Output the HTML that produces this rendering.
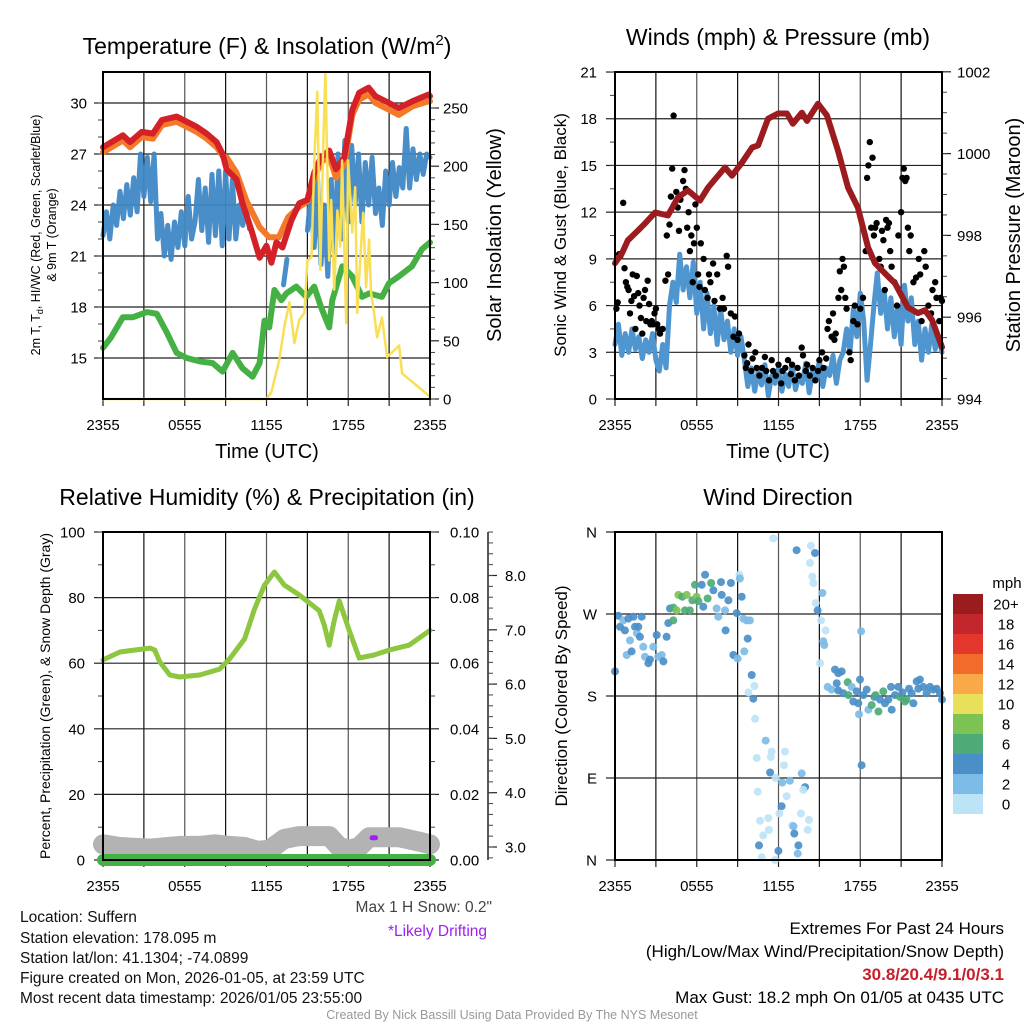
<!DOCTYPE html>
<html><head><meta charset="utf-8">
<style>
html,body{margin:0;padding:0;background:#fff;}
svg{display:block;font-family:"Liberation Sans",Arial,sans-serif;}
</style></head>
<body>
<svg id="chart" width="1024" height="1024" viewBox="0 0 1024 1024" xmlns="http://www.w3.org/2000/svg">
<rect x="0" y="0" width="1024" height="1024" fill="#fff"/>
<!-- titles -->
<text x="267" y="54" font-size="23" text-anchor="middle">Temperature (F) &amp; Insolation (W/m<tspan dy="-9" font-size="15">2</tspan><tspan dy="9">)</tspan></text>
<text x="778" y="45" font-size="23" text-anchor="middle">Winds (mph) &amp; Pressure (mb)</text>
<text x="267" y="505" font-size="23" text-anchor="middle">Relative Humidity (%) &amp; Precipitation (in)</text>
<text x="778" y="505" font-size="23" text-anchor="middle">Wind Direction</text>
<!-- axis titles -->
<text x="267" y="458" font-size="20" text-anchor="middle">Time (UTC)</text>
<text x="778" y="458" font-size="20" text-anchor="middle">Time (UTC)</text>
<text transform="translate(40,235) rotate(-90)" font-size="12.5" text-anchor="middle">2m T, T<tspan dy="3" font-size="9">d</tspan><tspan dy="-3">, HI/WC (Red, Green, Scarlet/Blue)</tspan></text>
<text transform="translate(56,235) rotate(-90)" font-size="12.5" text-anchor="middle">&amp; 9m T (Orange)</text>
<text transform="translate(501,235) rotate(-90)" font-size="20" text-anchor="middle">Solar Insolation (Yellow)</text>
<text transform="translate(566,235) rotate(-90)" font-size="17" text-anchor="middle">Sonic Wind &amp; Gust (Blue, Black)</text>
<text transform="translate(1020,235) rotate(-90)" font-size="20" text-anchor="middle">Station Pressure (Maroon)</text>
<text transform="translate(50,696) rotate(-90)" font-size="14" text-anchor="middle">Percent, Precipitation (Green), &amp; Snow Depth (Gray)</text>
<text transform="translate(567,696) rotate(-90)" font-size="17" text-anchor="middle">Direction (Colored By Speed)</text>
<!-- footer text -->
<g font-size="15.5" fill="#111">
<text x="20" y="922">Location: Suffern</text>
<text x="20" y="943">Station elevation: 178.095 m</text>
<text x="20" y="963">Station lat/lon: 41.1304; -74.0899</text>
<text x="20" y="983">Figure created on Mon, 2026-01-05, at 23:59 UTC</text>
<text x="20" y="1003">Most recent data timestamp: 2026/01/05 23:55:00</text>
</g>
<text x="492" y="912" font-size="15.5" fill="#444" text-anchor="end">Max 1 H Snow: 0.2"</text>
<text x="487" y="936" font-size="15.5" fill="#A020F0" text-anchor="end">*Likely Drifting</text>
<g font-size="17" text-anchor="end">
<text x="1004" y="934">Extremes For Past 24 Hours</text>
<text x="1004" y="957">(High/Low/Max Wind/Precipitation/Snow Depth)</text>
<text x="1004" y="980" fill="#C8202A" font-weight="bold">30.8/20.4/9.1/0/3.1</text>
<text x="1004" y="1003">Max Gust: 18.2 mph On 01/05 at 0435 UTC</text>
</g>
<text x="512" y="1019" font-size="12.5" fill="#999" text-anchor="middle">Created By Nick Bassill Using Data Provided By The NYS Mesonet</text>
<g id="layer"></g>
</svg>
<script>
// ---------- DATA ----------
const timeTickLabels = ["2355","0555","1155","1755","2355"];
const tempTickLabels = [15,18,21,24,27,30];
const insolTickLabels = [0,50,100,150,200,250];
const windTickLabels = [0,3,6,9,12,15,18,21];
const pressTickLabels = [994,996,998,1000,1002];
const rhTickLabels = [0,20,40,60,80,100];
const precipTickLabels = ["0.00","0.02","0.04","0.06","0.08","0.10"];
const snowTickLabels = ["3.0","4.0","5.0","6.0","7.0","8.0"];
const dirTickLabels = ["N","E","S","W","N"];
const speedBinLabels = ["0","2","4","6","8","10","12","14","16","18","20+"];

const redHours = [0,1.46,1.98,2.85,3.66,4.32,5.41,6.14,6.88,7.61,8.34,8.78,9.07,9.8,10.24,10.9,11.49,12.0,12.36,12.73,13.17,13.83,14.41,15,15.5,16.0,16.6,17.1,17.7,18.3,18.8,19.5,20.0,21.0,21.7,22.7,23.9,24];
const redVals  = [27.4,28.1,27.7,28.3,28.2,29.0,29.2,28.9,28.6,28.2,27.7,27.0,26.1,25.5,24.1,22.5,20.9,21.6,20.6,21.8,21.5,23.1,24.1,24.3,25.9,26.8,27.2,26.1,26.8,29.6,30.6,30.9,30.4,30.0,29.7,30.1,30.5,30.4];
const orangeHours = [0,1.46,1.98,2.85,3.66,4.32,5.41,6.14,6.88,7.61,8.34,8.78,9.07,9.8,10.5,11.49,12.2,12.9,13.6,14.41,15,15.5,16.0,16.6,17.1,17.7,18.3,18.8,19.5,20.0,21.0,21.7,22.7,23.9,24];
const orangeVals  = [27.1,27.8,27.4,28.0,27.9,28.7,28.9,28.6,28.3,27.9,27.4,26.9,26.8,25.9,24.3,22.7,22.1,22.1,23.3,23.9,24.2,25.6,26.5,26.9,25.6,26.4,29.3,30.2,30.5,30.0,29.6,29.3,29.8,30.1,30.1];
const blueVals = [22.2,23.6,22.0,24.0,22.8,24.8,23.2,25.2,23.4,25.6,23.6,
  27.0,24.5,26.8,24.2,27.0,
  22,23.5,21,22.8,20.8,23,21.5,23.6,21.6,24.5,22,
  23,25.5,22.5,25,21.8,25.8,22.2,26,21.6,26,22,25.5,22,
  24,22.8,23.8,22.6,
  null,null,null,null,null,null,null,null,null,
  19.3,20.8,
  null,null,null,null,null,
  22.5,24.5,21.5,25.5,20.5,24,19.8,25.5,21,27,22,27.8,23,27.5,24,27,23,26.5,24,26.8,23.5,25,22.8,26,24,26.5,24.5,26.2,25,28.5,25,27.3,25.5,27,25.8,27,26.8];
const blueStepHours = 0.25;
const greenHours = [0,0.58,1.46,2.2,3.22,3.95,4.68,5.41,6.14,7.09,8.05,8.78,9.51,10.24,10.97,11.49,11.85,12.2,12.58,13.09,13.46,14.19,14.92,15.5,16.0,16.6,16.83,17.56,18.29,19.02,19.53,20.48,20.99,21.72,22.68,23.41,24];
const greenVals  = [15.6,16.2,17.4,17.4,17.7,17.6,16.5,15.3,15.0,14.8,14.7,14.2,15.3,14.4,13.9,14.7,17.2,16.8,19.0,18.4,18.8,19.2,18.6,19.2,18.0,16.8,18.4,20.4,19.8,18.6,18.8,18.6,19.4,19.8,20.4,21.4,21.8];
const insolHours = [0,11.99,12.36,12.95,13.31,13.68,13.9,14.05,14.41,14.78,15.0,15.3,15.51,15.73,15.95,16.17,16.32,16.6,16.75,16.97,17.2,17.41,17.55,17.85,17.99,18.14,18.29,18.51,18.66,18.95,19.1,19.31,19.53,19.68,19.9,20.12,20.48,20.85,21.73,21.95,24];
const insolVals  = [0,0,6,34,62,83,62,48,68,74,119,122,205,264,111,220,281,119,171,94,162,131,205,65,205,174,143,182,74,134,160,96,137,91,74,53,70,36,46,22,2,0];

const windVals = [3.5,4.8,2.8,4.2,3.0,4.5,3.2,4.0,2.6,3.8,3.0,4.2,
  2.5,1.8,3.5,2.0,
  6.0,7.5,6.2,9.3,7.0,8.5,6.5,8.8,
  5.5,7.5,4.5,6.8,4.2,6.0,3.5,5.8,3.8,5.0,3.0,4.5,2.8,4.0,2.5,
  0.8,2.0,0.5,1.8,0.9,2.2,0.2,1.5,1.0,2.0,0.5,1.6,0.8,2.2,0.6,1.5,1.0,2.3,0.4,1.8,1.2,2.5,0.8,2.0,1.5,2.8,1.0,2.5,3.0,
  4.5,3.0,5.8,4.0,6.8,5.0,1.2,3.5,6.0,8.1,5.5,7.0,4.5,
  6.5,4.0,6.0,3.5,7.3,5.0,6.5,3.5,5.0,2.5,4.5,3.0,4.8,3.2,4.0,3.0];
const windStepHours = 0.25;
const gustHours = [0.1,0.2,0.3,0.4,0.6,0.7,0.8,0.9,1.0,1.1,1.2,1.3,1.4,1.5,1.6,1.7,1.8,1.9,2.0,2.1,2.2,2.3,2.4,2.5,2.6,2.7,2.8,2.9,3.0,3.1,3.2,3.3,3.5,
 3.7,3.8,3.9,4.0,4.1,4.2,4.3,4.35,4.5,4.6,4.7,4.8,5.0,5.1,5.2,5.3,5.4,5.5,5.6,5.7,5.8,5.9,6.0,6.1,6.2,6.3,6.5,6.6,6.8,6.9,7.0,7.2,7.3,7.5,7.7,7.9,8.0,8.2,8.3,8.5,8.7,8.8,9.0,9.1,
 9.5,9.6,9.7,9.8,10.0,10.1,10.3,10.4,10.6,10.8,11.0,11.1,11.3,11.5,11.6,11.8,12.0,12.2,12.3,12.5,12.7,12.9,13.0,13.2,13.4,13.5,13.7,13.8,14.0,14.1,14.3,14.5,14.7,14.9,15.0,15.2,15.3,15.5,
 15.6,15.7,15.9,16.0,16.1,16.2,16.4,16.5,16.6,16.7,16.8,16.9,17.0,17.2,17.3,17.5,17.6,17.8,18.0,18.2,18.4,18.5,18.6,18.7,18.9,18.8,19.0,19.1,19.2,19.4,19.5,19.6,19.7,19.8,19.9,20.0,20.1,20.2,20.3,20.5,20.7,20.8,21.0,21.1,21.2,21.3,21.4,21.5,21.6,21.7,21.9,22.1,22.3,22.4,22.5,22.7,22.8,23.0,23.2,23.3,23.5,23.6,23.8,23.9,24.0];
const gustVals = [5.8,6.2,9.3,9.2,12.6,8.4,7.5,7.2,7.0,5.5,6.3,8.0,6.6,4.5,7.9,6.8,6.0,5.2,4.2,6.5,7.0,5.0,7.6,6.1,4.8,5.0,4.8,5.5,5.8,4.8,4.5,4.2,4.5,
 7.6,10.5,8.0,11.2,13.0,14.8,18.2,12.5,13.3,12.3,10.8,12.8,14.0,14.7,13.5,11.0,12.0,9.5,10.5,7.5,10.0,12.5,11.0,8.0,7.2,10.0,9.0,7.0,6.5,8.0,7.5,8.7,6.3,8.0,5.8,6.5,5.8,9.2,8.5,5.5,4.0,5.3,3.8,4.2,
 2.8,2.0,2.3,3.5,1.8,2.6,3.0,2.0,1.5,2.0,2.7,1.8,1.2,2.5,1.8,1.5,2.2,1.0,1.8,2.0,2.5,1.6,2.2,1.2,2.0,1.5,3.3,2.8,1.8,2.2,1.5,2.0,1.2,1.8,2.5,3.0,2.0,2.6,
 4.5,5.0,4.0,5.5,3.8,4.2,6.5,8.2,7.0,9.0,8.5,6.5,5.8,3.0,2.5,5.0,6.0,4.8,5.8,6.5,9.5,14.2,15.0,16.5,15.5,11.0,10.5,11.0,11.3,9.0,8.5,10.8,10.2,7.0,11.5,11.0,11.3,9.5,8.5,7.5,6.0,10.5,12.0,14.2,14.8,14.0,14.2,11.0,9.5,10.5,7.5,7.8,9.0,8.0,5.0,9.5,8.5,6.0,5.5,7.0,7.5,6.5,5.0,6.5,6.3];
const pressHours = [0,0.51,0.95,1.69,2.2,2.94,3.89,4.62,5.35,6.24,6.83,8.07,8.59,9.32,10.06,10.5,11.23,11.96,12.62,13.06,13.72,14.09,14.9,15.56,16.37,17.1,17.83,18.57,19.08,19.82,20.55,21.5,22.24,22.75,23.27,24];
const pressVals  = [997.32,997.56,997.88,998.12,998.29,998.56,998.49,998.93,999.1,998.85,999.17,999.66,999.46,999.78,1000.15,1000.2,1000.85,1000.98,1000.98,1000.73,1001.0,1000.8,1001.22,1000.93,1000.07,999.17,998.68,997.71,997.32,997.07,996.83,996.24,996.1,996.17,995.93,995.27];

const rhHours = [0,1.24,3.44,3.8,4.17,4.9,5.63,7.09,8.56,9.29,10.39,11.12,11.85,12.58,13.31,14.41,15.87,16.24,16.6,16.97,17.34,18.07,18.8,19.9,20.99,22.46,24];
const rhVals  = [61,63.4,64.6,64,60.4,56.4,55.8,56.4,58.2,61.3,67.4,76.5,83.8,87.8,83.8,80.8,76,71.6,65.5,73,79,70,61.6,62.5,64,65.5,70];
const snowHours = [0,1.24,3.44,5.63,7.09,8.19,9.29,10.39,11.34,12.22,13.31,14.41,16.6,17.34,18.07,18.8,19.53,21.72,23.19,24];
const snowVals  = [3.05,3.0,2.97,3.02,3.02,3.05,3.02,3.0,2.93,2.95,3.15,3.2,3.2,3.0,2.95,3.0,3.18,3.18,3.1,3.05];
const precipHours = [0,24];
const precipVals  = [0,0];
const driftHours = [19.75,20.0];
const driftVals  = [3.17,3.17];

const dirHours = [0,0.24,0.37,0.61,0.73,0.98,1.1,1.35,1.47,1.6,1.71,1.83,1.96,2.08,2.2,2.45,2.57,2.81,3.06,3.18,3.43,3.55,3.79,0.86,1.22,
 3.91,4.28,4.04,4.28,4.53,4.65,4.94,5.14,5.26,5.5,5.68,5.87,5.99,6.12,6.36,6.48,6.61,6.8,7.05,7.22,7.46,7.58,7.78,7.83,8.07,8.12,8.32,8.51,8.69,8.93,9.0,9.13,9.3,9.17,9.42,9.66,9.9,9.74,9.49,
 10.03,10.23,9.79,10.15,10.28,11.06,10.4,11.5,11.44,12.48,12.4,11.38,11.79,12.28,12.84,13.7,13.95,13.82,12.6,10.47,12.23,12.06,13.65,14.24,11.25,10.64,13.0,13.1,10.88,11.3,14.14,13.16,13.46,10.57,11.99,10.77,11.74,13.41,
 11.62,13.33,14.38,14.68,14.31,14.48,14.56,15.22,14.73,14.87,15.12,15.46,15.29,15.36,15.05,18.06,
 16.15,16.39,16.64,15.61,15.9,16.27,16.39,16.76,17.08,17.13,17.37,17.49,17.74,17.86,17.98,17.91,18.23,18.47,18.6,18.84,19.03,19.13,19.33,19.45,19.69,19.82,20.06,20.26,20.31,20.55,20.79,20.92,21.09,21.28,21.4,21.58,21.77,21.9,22.14,22.26,22.38,22.63,22.87,23.12,23.36,23.61,23.85,24.0,18.1];
const dirDegs = [207,268,256,263,252,265,241,267,256,249,256,245,267,234,223,216,220,234,247,223,225,218,245,225,229,
 260,263,276,277,274,291,289,274,291,274,285,302,289,284,302,278,313,287,304,296,276,267,305,291,274,252,285,304,225,271,221,313,289,309,265,263,263,243,229,
 203,191,184,177,155,131,112,119,113,119,104,96,90,85,87,95,80,77,70,75,59,51,51,44,46,43,38,37,27,33,33,29,16,16,10,3,0,7,
 353,340,345,337,326,311,304,293,282,274,263,252,240,236,216,251,
 209,205,207,190,187,194,186,183,195,181,190,174,185,172,198,160,181,187,165,170,179,181,163,176,185,172,176,190,165,181,190,179,184,174,176,188,183,172,196,188,198,190,183,190,187,188,183,176,104];
const dirSpeeds = [5,5,5,3,5,5,3,5,5,3,5,5,5,3,3,5,5,3,5,3,3,5,5,3,5,
 5,7,5,7,9,9,7,7,9,7,7,7,9,7,5,5,5,7,7,5,3,3,5,5,3,5,5,5,5,5,3,1,5,3,3,3,3,5,3,
 5,1,1,5,1,3,1,1,1,1,1,5,1,3,3,3,5,1,1,1,5,1,1,1,1,1,1,3,1,1,1,5,5,5,5,1,1,3,
 1,5,1,5,1,1,1,3,1,5,1,1,3,3,1,3,
 5,5,5,3,3,5,5,5,7,7,3,5,5,5,5,3,5,5,3,7,5,7,7,5,7,5,5,5,5,5,5,7,5,7,7,5,5,5,5,5,5,5,5,5,5,5,5,5,5];
const speedColors = ["#BDE3F7","#7DBCE6","#4A8FC8","#4DAB78","#7DC353","#E8E05A","#F9A948","#F26B2B","#E2372A","#C1272D","#9B1C1F"];

// ---------- DRAWING ----------
const NS = "http://www.w3.org/2000/svg";
const layer = document.getElementById("layer");
function el(tag, parent){ const e = document.createElementNS(NS, tag); (parent||layer).appendChild(e); return e; }
function set(e, k, v){ e.setAttribute(k, v); return e; }

const P1 = {x0:103,x1:430,y0:72,y1:399};
const P2 = {x0:615,x1:942,y0:72,y1:399};
const P3 = {x0:103,x1:430,y0:532,y1:860};
const P4 = {x0:615,x1:942,y0:532,y1:860};
function xh(P,h){ return P.x0 + (P.x1-P.x0)*h/24; }
const yTemp = v => 103 + (30-v)*17;
const yIns = v => 399 - v*1.164;
const yWind = v => 399 - v*15.57;
const yPress = v => 399 - (v-994)*40.9;
const yRH = v => 860 - v*3.28;
const yPrecip = v => 860 - v*3280;
const ySnow = v => 847 - (v-3)*54.3;
const yDir = v => 860 - v*328/360;

function line(g,x1,y1,x2,y2,stroke,w){ const l=el("line",g); set(l,"x1",x1);set(l,"y1",y1);set(l,"x2",x2);set(l,"y2",y2);set(l,"stroke",stroke);set(l,"stroke-width",w); return l; }
function text(g,x,y,s,anchor,size){ const t=el("text",g); set(t,"x",x);set(t,"y",y);set(t,"text-anchor",anchor);set(t,"font-size",size); t.textContent=s; return t; }

function frame(P, name, hGrid){
  const g = el("g");
  
  
  for(let h=3; h<24; h+=3){ line(g, xh(P,h), P.y0, xh(P,h), P.y1, (h%6==0)?"#555":"#111", 1.2); }
  hGrid.forEach(y=>line(g, P.x0, y, P.x1, y, "#222", 1.2));
  const xa = el("g");
  
  
  for(let h=0; h<=24; h+=3){ line(xa, xh(P,h), P.y1, xh(P,h), P.y1+7, "#222", 1.2); }
  timeTickLabels.forEach((s,i)=>text(xa, xh(P,i*6), P.y1+31, s, "middle", 15));
  return g;
}
function border(P,name){
  const r = el("rect"); set(r,"x",P.x0);set(r,"y",P.y0);set(r,"width",P.x1-P.x0);set(r,"height",P.y1-P.y0);set(r,"fill","none");set(r,"stroke","#000");set(r,"stroke-width",2);
  
  
}
function yAxis(x, vals, labels, fy, side, minorStep, name, lx){
  const g = el("g");
  
  
  const d = side=="left"?-1:1;
  vals.forEach((v,i)=>{ const y=fy(v); line(g,x,y,x+d*9,y,"#222",1.2); const t=text(g, lx, y+5.5, String(labels[i]), side=="left"?"end":"start", 15); });
  if(minorStep){ const lo=vals[0], hi=vals[vals.length-1]; for(let v=lo; v<=hi+1e-9; v+=minorStep){ const y=fy(v); line(g,x,y,x+d*5,y,"#444",1); } }
  return g;
}
function path(vals, hours, fx, fy, stroke, w, name, opacity){
  let d = "", pen=false;
  vals.forEach((v,i)=>{ if(v===null||v===undefined){pen=false;return;} const X=fx(hours(i)), Y=fy(v); d += (pen?"L":"M")+X.toFixed(1)+" "+Y.toFixed(1)+" "; pen=true; });
  const p = el("path"); set(p,"d",d); set(p,"fill","none"); set(p,"stroke",stroke); set(p,"stroke-width",w); set(p,"stroke-linejoin","round"); set(p,"stroke-linecap","round");
  if(opacity) set(p,"stroke-opacity",opacity);
  
  
  return p;
}

// Panel 1
frame(P1, "temperature", tempTickLabels.map(yTemp));
yAxis(P1.x0, tempTickLabels, tempTickLabels, yTemp, "left", 1, "temperature-y-axis", 87);
yAxis(P1.x1, insolTickLabels, insolTickLabels, yIns, "right", 10, "insolation-y-axis", 443);
path(blueVals, i=>i*blueStepHours, h=>xh(P1,h), yTemp, "#3F88C5", 5, "heat-index-line", 0.95);
path(orangeVals, i=>orangeHours[i], h=>xh(P1,h), yTemp, "#F47A2A", 6, "9m-temperature-line");
path(redVals, i=>redHours[i], h=>xh(P1,h), yTemp, "#D42027", 6, "2m-temperature-line");
path(greenVals, i=>greenHours[i], h=>xh(P1,h), yTemp, "#45B043", 6, "dewpoint-line");
path(insolVals, i=>insolHours[i], h=>xh(P1,h), yIns, "#F9DF55", 2.5, "insolation-line");
border(P1, "temperature");

// Panel 2
frame(P2, "winds", [3,6,9,12,15,18].map(yWind));
yAxis(P2.x0, windTickLabels, windTickLabels, yWind, "left", 1.5, "wind-y-axis", 597);
yAxis(P2.x1, pressTickLabels, pressTickLabels, yPress, "right", 0.5, "pressure-y-axis", 957);
path(windVals, i=>i*windStepHours, h=>xh(P2,h), yWind, "#4F95D0", 5, "sonic-wind-line");
const gg = el("g");


gustVals.forEach((v,i)=>{ const c=el("circle",gg); set(c,"cx",xh(P2,gustHours[i]).toFixed(1)); set(c,"cy",yWind(v).toFixed(1)); set(c,"r",3.2); set(c,"fill","#000"); });
path(pressVals, i=>pressHours[i], h=>xh(P2,h), yPress, "#9B1B1E", 6, "pressure-line");
border(P2, "winds");

// Panel 3
frame(P3, "humidity", [20,40,60,80].map(yRH));
yAxis(P3.x0, rhTickLabels, rhTickLabels, yRH, "left", 10, "humidity-y-axis", 85);
yAxis(P3.x1, [0,0.02,0.04,0.06,0.08,0.10], precipTickLabels, yPrecip, "right", 0.01, "precipitation-y-axis", 450);
const sg = el("g");


line(sg, 488, P3.y0, 488, P3.y1, "#222", 1.5);
[3,4,5,6,7,8].forEach((v,i)=>{ line(sg,488,ySnow(v),497,ySnow(v),"#222",1.2); text(sg,505,ySnow(v)+5.5,snowTickLabels[i],"start",15); });
for(let v=2.8; v<=8.8; v+=0.2){ line(sg,488,ySnow(v),493,ySnow(v),"#444",1); }
path(snowVals, i=>snowHours[i], h=>xh(P3,h), ySnow, "#B3B3B3", 20, "snow-depth-line");
path(precipVals, i=>precipHours[i], h=>xh(P3,h), yPrecip, "#45B043", 12, "precipitation-line");
path(driftVals, i=>driftHours[i], h=>xh(P3,h), ySnow, "#A020F0", 5, "drifting-marker");
path(rhVals, i=>rhHours[i], h=>xh(P3,h), yRH, "#8DC63F", 5, "relative-humidity-line");
border(P3, "humidity");

// Panel 4
frame(P4, "direction", [90,180,270].map(yDir));
yAxis(P4.x0, [0,90,180,270,360], dirTickLabels, yDir, "left", 0, "direction-y-axis", 597);
const dg = el("g");


dirDegs.forEach((v,i)=>{ const c=el("circle",dg); const bin=Math.min(10,Math.floor(dirSpeeds[i]/2)); set(c,"cx",xh(P4,dirHours[i]).toFixed(1)); set(c,"cy",yDir(v).toFixed(1)); set(c,"r",4); set(c,"fill",speedColors[bin]); set(c,"fill-opacity",0.92); });
border(P4, "direction");
const cb = el("g");


text(cb, 1007, 588, "mph", "middle", 15);
speedBinLabels.forEach((s,i)=>{ const y = 794 - i*20; const r=el("rect",cb); set(r,"x",953);set(r,"y",y);set(r,"width",30);set(r,"height",20);set(r,"fill",speedColors[i]); text(cb,1006,y+15.5,s,"middle",15); });
</script>
</body></html>
